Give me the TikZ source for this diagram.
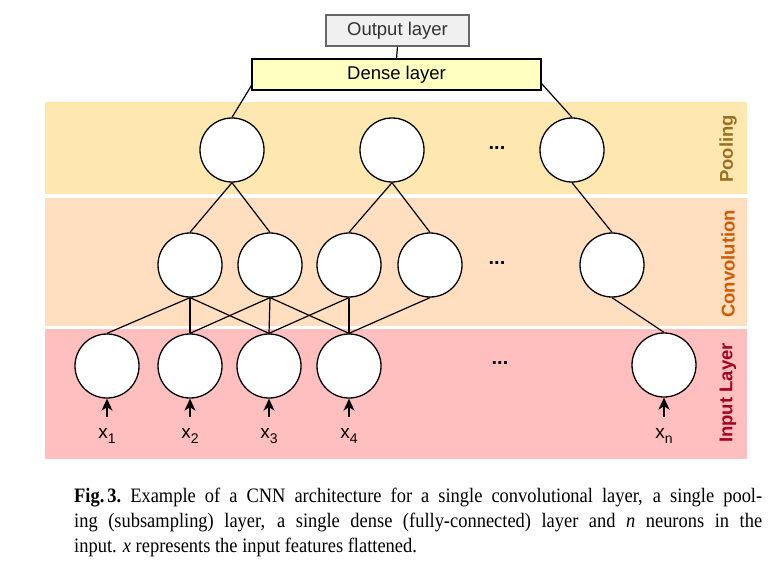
\documentclass[tikz,border=0pt]{standalone}
\usepackage{fontspec}
\setmainfont{Liberation Sans}
\newfontfamily\capfont[FakeStretch=0.9]{Liberation Serif}
\usetikzlibrary{arrows.meta}

\definecolor{poolband}{HTML}{FFE8B0}
\definecolor{convband}{HTML}{FFDFBF}
\definecolor{inband}{HTML}{FFBFBF}
\definecolor{pooltext}{HTML}{9A7020}
\definecolor{convtext}{HTML}{D05A00}
\definecolor{intext}{HTML}{A50021}
\definecolor{densefill}{HTML}{FFFFC0}
\definecolor{outfill}{HTML}{F0F0F0}

\newcommand{\xsub}[1]{\raisebox{-5pt}{\fontsize{14}{14}\selectfont #1}}

\begin{document}
\begin{tikzpicture}[
        x=1pt, y=1pt,
        neuron/.style={circle, draw, fill=white, line width=1.3pt, minimum size=64pt, inner sep=0pt},
        layerbox/.style={rectangle, draw, line width=1.1pt, minimum height=31pt, inner sep=0pt, font=\fontsize{18.5}{20}\selectfont},
        line/.style={draw, line width=1.2pt},
        feed/.style={draw, line width=2pt, -{Stealth[length=12pt,width=11pt,inset=3.5pt]}},
        band/.style={rectangle, inner sep=0pt, minimum width=702pt},
        bandlabel/.style={rotate=90, font=\bfseries\fontsize{18.5}{20}\selectfont},
        xlabel/.style={inner sep=0pt, anchor=base, font=\fontsize{19}{20}\selectfont},
        dots/.style={font=\bfseries\fontsize{20}{20}\selectfont}
    ]
        \useasboundingbox (0,0) rectangle (768,582);

        % layer bands
        \node [band, fill=poolband, minimum height=92pt] (poolband) at (396,434) {};
        \node [band, fill=convband, minimum height=128pt] (convband) at (396,320) {};
        \node [band, fill=inband, minimum height=130pt] (inband) at (396,188) {};
        \node [bandlabel, text=pooltext] (poollabel) at (728,433) {Pooling};
        \node [bandlabel, text=convtext] (convlabel) at (728,318) {Convolution};
        \node [bandlabel, text=intext] (inlabel) at (728,189) {Input Layer};

        % top boxes
        \node [layerbox, fill=outfill, draw=black!60, text=black!80, minimum width=143pt] (out) at (397.5,551.5) {Output layer};
        \node [layerbox, fill=densefill, minimum width=289pt] (dense) at (396.5,507.5) {Dense layer};

        % pooling neurons
        \node [neuron] (p1) at (232,432) {};
        \node [neuron] (p2) at (392,432) {};
        \node [dots] (pdots) at (497,434) {...};
        \node [neuron] (p3) at (572,432) {};

        % convolution neurons
        \node [neuron] (c1) at (190,317) {};
        \node [neuron] (c2) at (270,317) {};
        \node [neuron] (c3) at (349,317) {};
        \node [neuron] (c4) at (430,317) {};
        \node [dots] (cdots) at (497,319) {...};
        \node [neuron] (c5) at (612,317) {};

        % input neurons
        \node [neuron] (i1) at (107,216) {};
        \node [neuron] (i2) at (190,216) {};
        \node [neuron] (i3) at (269,216) {};
        \node [neuron] (i4) at (349,216) {};
        \node [dots] (idots) at (500,219) {...};
        \node [neuron] (in) at (664,217) {};

        % inputs
        \node [xlabel] (x1) at (107,144) {x\xsub{1}};
        \node [xlabel] (x2) at (190,144) {x\xsub{2}};
        \node [xlabel] (x3) at (269,144) {x\xsub{3}};
        \node [xlabel] (x4) at (349,144) {x\xsub{4}};
        \node [xlabel] (xn) at (664,144) {x\xsub{n}};

        \path [feed] ([yshift=11pt]x1.north) -- (i1.south);
        \path [feed] ([yshift=11pt]x2.north) -- (i2.south);
        \path [feed] ([yshift=11pt]x3.north) -- (i3.south);
        \path [feed] ([yshift=11pt]x4.north) -- (i4.south);
        \path [feed] ([yshift=11pt]xn.north) -- (in.south);

        % input -> convolution
        \path [line] (c1.south) -- (i1.north);
        \path [line] (c1.south) -- (i2.north);
        \path [line] (c1.south) -- (i3.north);
        \path [line] (c2.south) -- (i2.north);
        \path [line] (c2.south) -- (i3.north);
        \path [line] (c2.south) -- (i4.north);
        \path [line] (c3.south) -- (i3.north);
        \path [line] (c3.south) -- (i4.north);
        \path [line] (c4.south) -- (i4.north);
        \path [line] (c5.south) -- (in.north);

        % convolution -> pooling
        \path [line] (p1.south) -- (c1.north);
        \path [line] (p1.south) -- (c2.north);
        \path [line] (p2.south) -- (c3.north);
        \path [line] (p2.south) -- (c4.north);
        \path [line] (p3.south) -- (c5.north);

        % pooling -> dense -> output
        \path [line] ([yshift=5pt]dense.south west) -- (p1.north);
        \path [line] ([yshift=7pt]dense.south east) -- (p3.north);
        \path [line] (out.south) -- (dense.north);

        % caption
        \node [anchor=north west, inner sep=0pt, align=left, font=\capfont\fontsize{20.5}{25}\selectfont] (caption) at (74,94) {%
            \makebox[688pt][s]{\mbox{\textbf{Fig.\kern3pt 3.}}\kern9pt Example of a CNN architecture for a single convolutional layer, a single pool-}\\
            \makebox[688pt][s]{ing (subsampling) layer, a single dense (fully-connected) layer and \emph{n} neurons in the}\\
            input. \emph{x} represents the input features flattened.};
\end{tikzpicture}
\end{document}
